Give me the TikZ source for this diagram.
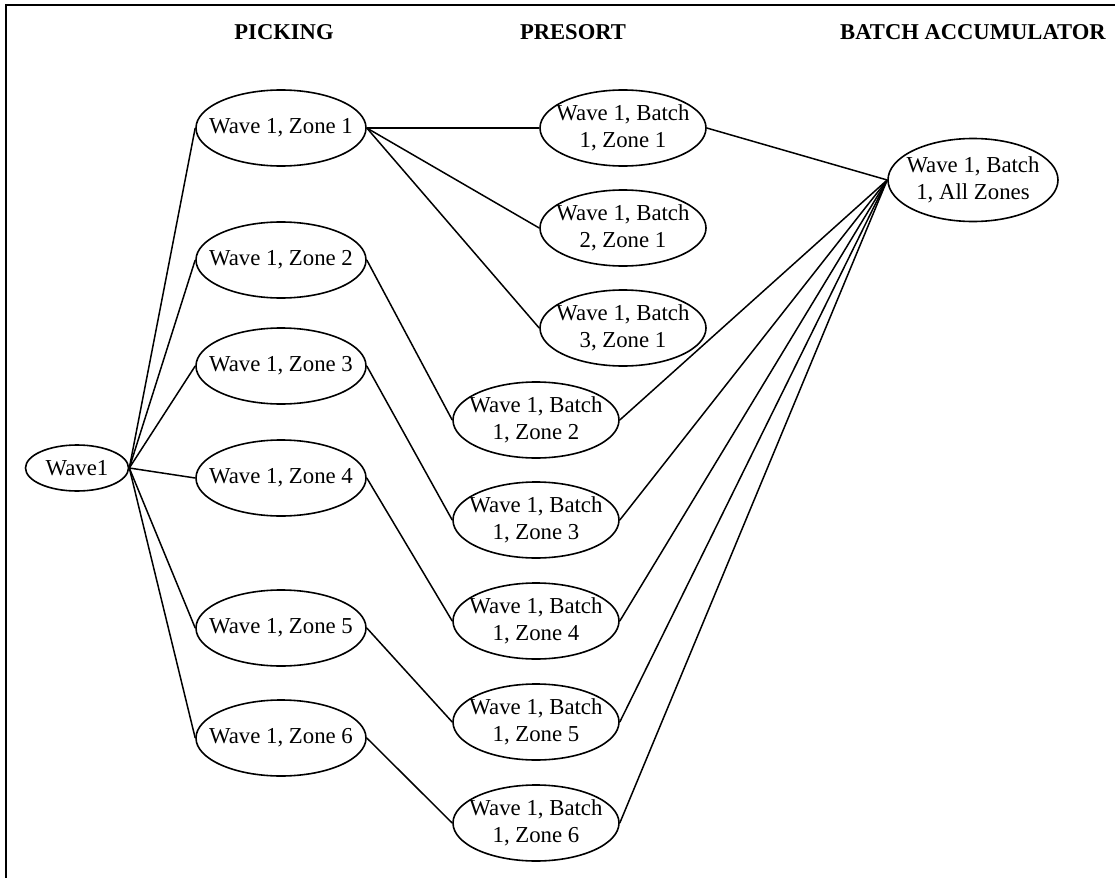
\documentclass[tikz,border=0pt]{standalone}
\usepackage{fontspec}
\setmainfont{Liberation Serif}
\usetikzlibrary{shapes.geometric}

\tikzset{
  zone/.style={ellipse,draw,line width=0.8pt,inner xsep=-7pt,inner ysep=0pt,
    align=center,font=\fontsize{11.4}{13.5}\selectfont},
  pick/.style={zone,minimum width=85pt,minimum height=38pt},
  sortbox/.style={zone,minimum width=83pt,minimum height=38pt},
  head/.style={font=\fontsize{11.3}{13.5}\selectfont\bfseries},
  link/.style={line width=0.75pt}
}

\begin{document}
\begin{tikzpicture}[x=0.5pt,y=-0.5pt]
        \useasboundingbox (0,0) rectangle (1115,878);

        % Frame (left and top edges)
        \draw[line width=1pt] (6,878) -- (6,5) -- (1115,5);

        % Column headings
        \node[head] (hpick) at (284,32) {PICKING};
        \node[head] (hsort) at (573,32) {PRESORT};
        \node[head] (hacc) at (973,32) {BATCH ACCUMULATOR};

        % Wave
        \node[zone,minimum width=51.5pt,minimum height=23pt] (wave) at (77,468) {Wave1};

        % Picking zones
        \node[pick] (z1) at (281,128) {Wave 1, Zone 1};
        \node[pick] (z2) at (281,260) {Wave 1, Zone 2};
        \node[pick] (z3) at (281,366) {Wave 1, Zone 3};
        \node[pick] (z4) at (281,478) {Wave 1, Zone 4};
        \node[pick] (z5) at (281,628) {Wave 1, Zone 5};
        \node[pick] (z6) at (281,738) {Wave 1, Zone 6};

        % Presort batches
        \node[sortbox] (b1z1) at (623,128) {Wave 1, Batch\\1, Zone 1};
        \node[sortbox] (b2z1) at (623,228) {Wave 1, Batch\\2, Zone 1};
        \node[sortbox] (b3z1) at (623,328) {Wave 1, Batch\\3, Zone 1};
        \node[sortbox] (b1z2) at (536,420) {Wave 1, Batch\\1, Zone 2};
        \node[sortbox] (b1z3) at (536,520) {Wave 1, Batch\\1, Zone 3};
        \node[sortbox] (b1z4) at (536,621) {Wave 1, Batch\\1, Zone 4};
        \node[sortbox] (b1z5) at (536,722) {Wave 1, Batch\\1, Zone 5};
        \node[sortbox] (b1z6) at (536,823) {Wave 1, Batch\\1, Zone 6};

        % Batch accumulator
        \node[zone,minimum width=85pt,minimum height=41.5pt] (acc) at (973,180) {Wave 1, Batch\\1, All Zones};

        % Wave to picking
        \foreach \z in {z1,z2,z3,z4,z5,z6}
          \draw[link] (wave.east) -- (\z.west);

        % Picking to presort
        \foreach \b in {b1z1,b2z1,b3z1}
          \draw[link] (z1.east) -- (\b.west);
        \foreach \n in {2,...,6}
          \draw[link] (z\n.east) -- (b1z\n.west);

        % Presort to accumulator
        \foreach \n in {1,...,6}
          \draw[link] (b1z\n.east) -- (acc.west);

    \end{tikzpicture}
\end{document}
